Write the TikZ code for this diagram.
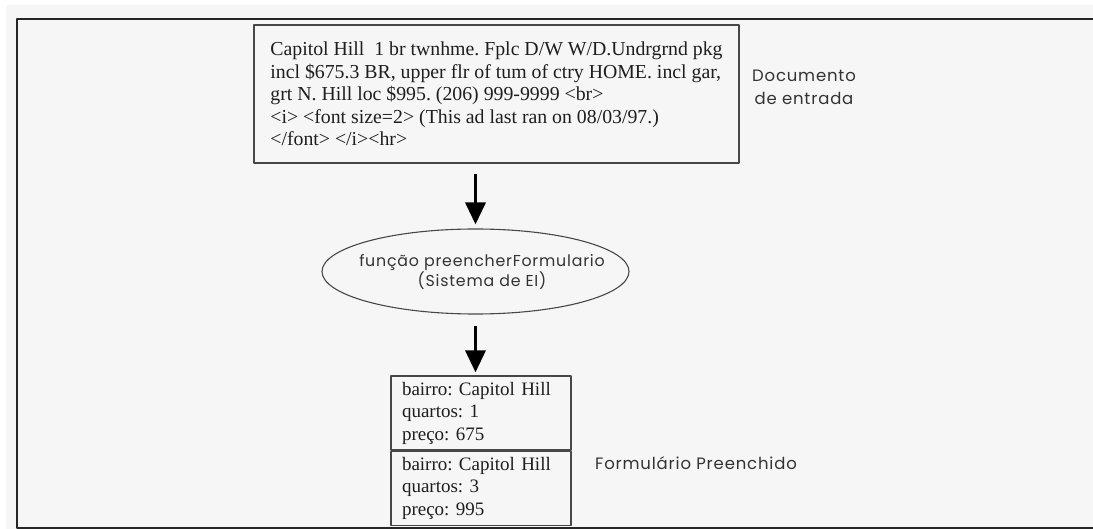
\documentclass[tikz,border=0pt]{standalone}
\usepackage{fontspec}
\setmainfont{Liberation Serif}
\newfontfamily\gothic[LetterSpace=5]{Poppins}
\usetikzlibrary{arrows.meta,calc,shapes.geometric}
\definecolor{bgpage}{HTML}{F6F6F6}
\definecolor{inkline}{HTML}{474747}
\definecolor{inktext}{HTML}{1E1E1E}
\frenchspacing
\tikzset{
  docbox/.style={draw=inkline, line width=1.3pt, align=left, inner xsep=10pt,
    minimum width=485pt, minimum height=138pt, text=inktext,
    font=\fontsize{19.8}{22.5}\selectfont},
  formbox/.style={draw=inkline, line width=1.3pt, align=left, text width=158pt,
    inner xsep=11pt, minimum height=74pt, text=inktext,
    font=\fontsize{19}{22.5}\selectfont},
  procnode/.style={ellipse, draw=inkline, line width=1.1pt, minimum width=307pt,
    minimum height=85pt, inner sep=0pt},
  proctext/.style={align=center, text=black!80, font=\gothic\fontsize{15.8}{20.5}\selectfont},
  note/.style={align=center, text=black!80, font=\gothic\fontsize{16.5}{23}\selectfont},
  flow/.style={-{Triangle[width=20pt,length=22pt]}, line width=3.5pt, line cap=butt},
  every picture/.style={line cap=round, line join=round}
}

\begin{document}
\begin{tikzpicture}[x=1pt,y=-1pt]
  \useasboundingbox (0,0) rectangle (1093,529);
  \fill[white] (0,0) rectangle (1093,529);
  \fill[bgpage] (6,5) rectangle (1093,529);
  \draw[line width=2pt, black!85] (1093,19) -- (17,19) -- (17,528) -- (1093,528);

  \node[docbox] (doc) at (496.5,94) {Capitol Hill\ \ 1 br twnhme. Fplc D/W W/D.Undrgrnd pkg\\
    incl \$675.3 BR, upper flr of tum of ctry HOME. incl gar,\\
    grt N. Hill loc \$995. (206) 999-9999 <br>\\
    <i> <font size=2> (This ad last ran on 08/03/97.)\\
    </font> </i><hr>};
  \node[note] (docnote) at (804,87) {Documento\\de entrada};

  \node[procnode] (func) at (475.5,271.5) {};
  \node[proctext] (functext) at (482,272) {função preencherFormulario\\(Sistema de EI)};

  \node[formbox] (form1) at (481,413) {bairro: Capitol Hill\\quartos: 1\\preço: 675};
  \node[formbox, anchor=north] (form2) at (form1.south) {bairro: Capitol Hill\\quartos: 3\\preço: 995};
  \node[note] (formnote) at (696,463) {Formulário Preenchido};

  \draw[flow, shorten <=10pt, shorten >=4pt] (func.north |- doc.south) -- (func.north);
  \draw[flow, shorten <=11pt, shorten >=3pt] (func.south) -- (func.south |- form1.north);
\end{tikzpicture}
\end{document}
